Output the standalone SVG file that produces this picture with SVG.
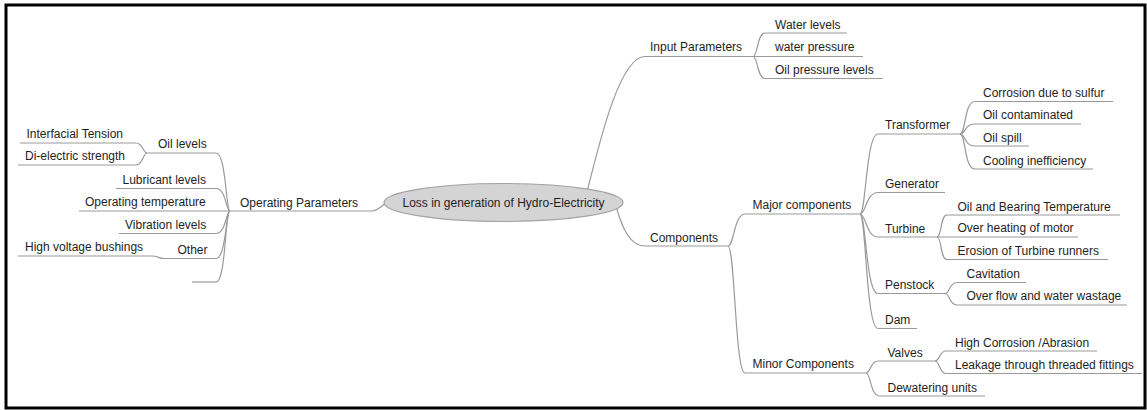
<svg xmlns="http://www.w3.org/2000/svg" width="1147" height="410" viewBox="0 0 1147 410">
  <style>
    .lbl { font-family: "Liberation Sans", Arial, sans-serif; font-size: 12px; fill: #1e1e1e; }
    .root-lbl { font-family: "Liberation Sans", Arial, sans-serif; font-size: 12px; fill: #1e1e1e; text-anchor: middle; }
    .ul { stroke: #9a9a9a; stroke-width: 1.2; fill: none; }
    .conn path { stroke: #9a9a9a; stroke-width: 1.2; fill: none; }
  </style>

  <rect x="0" y="0" width="1147" height="410" fill="#ffffff"/>
  <!-- frame -->
  <rect x="6" y="5" width="1139" height="403" fill="none" stroke="#000000" stroke-width="3"/>

  <!-- connectors: curved links from a parent's hub to a child's underline -->
  <g id="connectors" class="conn">
    <!-- root links -->
    <path d="M390,200 C382,205 378,211 372,211"/>
    <path d="M587,192 C600,140 620,56.5 645,56.5"/>
    <path d="M616,206 C622,228 630,246 645,246"/>

    <!-- Operating Parameters hub (230,211) -->
    <path d="M230,211 C226,211 226,153 216,153"/>
    <path d="M230,211 C226,211 226,188.5 216,188.5"/>
    <path d="M230,211 C226,211 226,233.5 216,233.5"/>
    <path d="M230,211 C226,211 226,258.5 216,258.5"/>
    <path d="M230,211 C225,211 226,282 216,282"/>

    <!-- Oil levels hub (147,153) -->
    <path d="M147,153 C143,153 143,143 136,143"/>
    <path d="M147,153 C143,153 143,165 136,165"/>

    <!-- Other hub (164,258.5) -->
    <path d="M164,258.5 C159,258.5 158,256 152,256"/>

    <!-- Input Parameters hub (753,56.5) -->
    <path d="M753,56.5 C758,56.5 757,33 765,33"/>
    <path d="M753,56.5 C758,56.5 757,78.5 765,78.5"/>

    <!-- Components hub (728,246) -->
    <path d="M728,246 C734,246 734,214 745,214"/>
    <path d="M728,246 C735,246 735,373 745,373"/>

    <!-- Major components hub (860,214) -->
    <path d="M860,214 C866,214 866,134 878,134"/>
    <path d="M860,214 C866,214 866,192.5 878,192.5"/>
    <path d="M860,214 C866,214 866,237 878,237"/>
    <path d="M860,214 C866,214 866,293.5 878,293.5"/>
    <path d="M860,214 C866,214 866,328.5 878,328.5"/>

    <!-- Transformer hub (960,134) -->
    <path d="M960,134 C966,134 964,101.5 975,101.5"/>
    <path d="M960,134 C966,134 964,124 975,124"/>
    <path d="M960,134 C966,134 964,146 975,146"/>
    <path d="M960,134 C966,134 964,169 975,169"/>

    <!-- Turbine hub (937,237) -->
    <path d="M937,237 C942,237 940,215 947,215"/>
    <path d="M937,237 C942,237 940,259.5 947,259.5"/>

    <!-- Penstock hub (945,293.5) -->
    <path d="M945,293.5 C950,293.5 949,282.5 957,282.5"/>
    <path d="M945,293.5 C950,293.5 949,305 957,305"/>

    <!-- Minor Components hub (866,373) -->
    <path d="M866,373 C871,373 870,361 878,361"/>
    <path d="M866,373 C871,373 870,396 880,396"/>

    <!-- Valves hub (935,361) -->
    <path d="M935,361 C940,361 939,351 946,351"/>
    <path d="M935,361 C940,361 939,373.5 946,373.5"/>
  </g>

  <!-- central topic -->
  <g id="root">
    <ellipse cx="503.5" cy="202.5" rx="119.5" ry="19" fill="#d4d4d4" stroke="#a3a3a3" stroke-width="1.2"/>
    <text class="root-lbl" x="503.5" y="207">Loss in generation of Hydro-Electricity</text>
  </g>

  <!-- left side -->
  <g id="operating-parameters">
    <line class="ul" x1="230" y1="211" x2="372" y2="211"/>
    <text class="lbl" x="240" y="207">Operating Parameters</text>
  </g>
  <g id="oil-levels">
    <line class="ul" x1="147" y1="153" x2="216" y2="153"/>
    <text class="lbl" x="158" y="148">Oil levels</text>
  </g>
  <g id="interfacial-tension">
    <line class="ul" x1="20" y1="143" x2="136" y2="143"/>
    <text class="lbl" x="26.5" y="138">Interfacial Tension</text>
  </g>
  <g id="dielectric-strength">
    <line class="ul" x1="18" y1="165" x2="136" y2="165"/>
    <text class="lbl" x="25" y="160">Di-electric strength</text>
  </g>
  <g id="lubricant-levels">
    <line class="ul" x1="116" y1="188.5" x2="216" y2="188.5"/>
    <text class="lbl" x="122.5" y="183.5">Lubricant levels</text>
  </g>
  <g id="operating-temperature">
    <line class="ul" x1="79" y1="211" x2="230" y2="211"/>
    <text class="lbl" x="85" y="206">Operating temperature</text>
  </g>
  <g id="vibration-levels">
    <line class="ul" x1="119" y1="233.5" x2="216" y2="233.5"/>
    <text class="lbl" x="125" y="228.5">Vibration levels</text>
  </g>
  <g id="other">
    <line class="ul" x1="164" y1="258.5" x2="216" y2="258.5"/>
    <text class="lbl" x="177.5" y="253.5">Other</text>
  </g>
  <g id="high-voltage-bushings">
    <line class="ul" x1="18" y1="256" x2="152" y2="256"/>
    <text class="lbl" x="25" y="251">High voltage bushings</text>
  </g>
  <g id="blank-branch">
    <line class="ul" x1="192" y1="282" x2="216" y2="282"/>
  </g>

  <!-- right side: input parameters -->
  <g id="input-parameters">
    <line class="ul" x1="645" y1="56.5" x2="753" y2="56.5"/>
    <text class="lbl" x="650" y="51">Input Parameters</text>
  </g>
  <g id="water-levels">
    <line class="ul" x1="765" y1="33" x2="847" y2="33"/>
    <text class="lbl" x="775" y="28.5">Water levels</text>
  </g>
  <g id="water-pressure">
    <line class="ul" x1="753" y1="56.5" x2="863" y2="56.5"/>
    <text class="lbl" x="775" y="51">water pressure</text>
  </g>
  <g id="oil-pressure-levels">
    <line class="ul" x1="765" y1="78.5" x2="883" y2="78.5"/>
    <text class="lbl" x="775" y="73.5">Oil pressure levels</text>
  </g>

  <!-- right side: components -->
  <g id="components">
    <line class="ul" x1="645" y1="246" x2="728" y2="246"/>
    <text class="lbl" x="650" y="241.5">Components</text>
  </g>
  <g id="major-components">
    <line class="ul" x1="745" y1="214" x2="860" y2="214"/>
    <text class="lbl" x="752.5" y="209">Major components</text>
  </g>
  <g id="minor-components">
    <line class="ul" x1="745" y1="373" x2="866" y2="373"/>
    <text class="lbl" x="752.5" y="368">Minor Components</text>
  </g>

  <g id="transformer">
    <line class="ul" x1="878" y1="134" x2="960" y2="134"/>
    <text class="lbl" x="885" y="129">Transformer</text>
  </g>
  <g id="corrosion-sulfur">
    <line class="ul" x1="975" y1="101.5" x2="1113" y2="101.5"/>
    <text class="lbl" x="983" y="96.5">Corrosion due to sulfur</text>
  </g>
  <g id="oil-contaminated">
    <line class="ul" x1="975" y1="124" x2="1081" y2="124"/>
    <text class="lbl" x="983" y="119">Oil contaminated</text>
  </g>
  <g id="oil-spill">
    <line class="ul" x1="975" y1="146" x2="1029" y2="146"/>
    <text class="lbl" x="983" y="141.5">Oil spill</text>
  </g>
  <g id="cooling-inefficiency">
    <line class="ul" x1="975" y1="169" x2="1093" y2="169"/>
    <text class="lbl" x="983" y="164.5">Cooling inefficiency</text>
  </g>

  <g id="generator">
    <line class="ul" x1="878" y1="192.5" x2="945" y2="192.5"/>
    <text class="lbl" x="885" y="187.5">Generator</text>
  </g>

  <g id="turbine">
    <line class="ul" x1="878" y1="237" x2="937" y2="237"/>
    <text class="lbl" x="885" y="232.5">Turbine</text>
  </g>
  <g id="oil-bearing-temperature">
    <line class="ul" x1="947" y1="215" x2="1120" y2="215"/>
    <text class="lbl" x="957.5" y="210.5">Oil and Bearing Temperature</text>
  </g>
  <g id="over-heating-motor">
    <line class="ul" x1="937" y1="237" x2="1078" y2="237"/>
    <text class="lbl" x="957.5" y="232">Over heating of motor</text>
  </g>
  <g id="erosion-turbine-runners">
    <line class="ul" x1="947" y1="259.5" x2="1108" y2="259.5"/>
    <text class="lbl" x="957.5" y="254.5">Erosion of Turbine runners</text>
  </g>

  <g id="penstock">
    <line class="ul" x1="878" y1="293.5" x2="945" y2="293.5"/>
    <text class="lbl" x="885" y="288.5">Penstock</text>
  </g>
  <g id="cavitation">
    <line class="ul" x1="957" y1="282.5" x2="1026" y2="282.5"/>
    <text class="lbl" x="966.5" y="278">Cavitation</text>
  </g>
  <g id="overflow-water-wastage">
    <line class="ul" x1="957" y1="305" x2="1127" y2="305"/>
    <text class="lbl" x="966.5" y="300">Over flow and water wastage</text>
  </g>

  <g id="dam">
    <line class="ul" x1="878" y1="328.5" x2="917" y2="328.5"/>
    <text class="lbl" x="885" y="323.5">Dam</text>
  </g>

  <g id="valves">
    <line class="ul" x1="878" y1="361" x2="935" y2="361"/>
    <text class="lbl" x="887.5" y="356.5">Valves</text>
  </g>
  <g id="high-corrosion-abrasion">
    <line class="ul" x1="946" y1="351" x2="1097" y2="351"/>
    <text class="lbl" x="955" y="346.5">High Corrosion /Abrasion</text>
  </g>
  <g id="leakage-threaded-fittings">
    <line class="ul" x1="946" y1="373.5" x2="1142" y2="373.5"/>
    <text class="lbl" x="955" y="368.5">Leakage through threaded fittings</text>
  </g>

  <g id="dewatering-units">
    <line class="ul" x1="880" y1="396" x2="985" y2="396"/>
    <text class="lbl" x="887.5" y="391.5">Dewatering units</text>
  </g>
</svg>
